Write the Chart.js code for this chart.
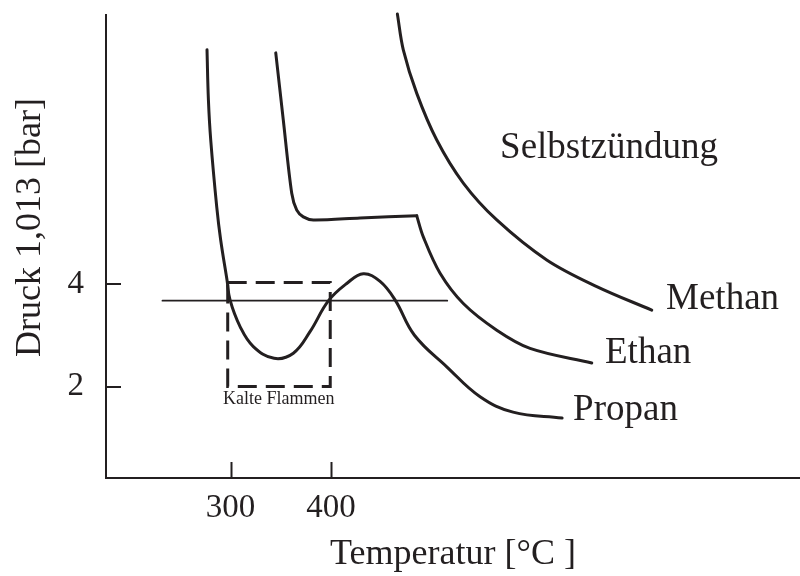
<!DOCTYPE html>
<html><head><meta charset="utf-8">
<script src="https://cdn.jsdelivr.net/npm/chart.js@4.4.0/dist/chart.umd.min.js"></script>
<style>html,body{margin:0;padding:0;background:#fff}#wrap{width:800px;height:576px}</style>
</head><body><div id="wrap"><canvas id="c" width="800" height="576"></canvas></div>
<script>
// ---- data (temperature °C, pressure bar) ----
const xTickValues = [300, 400];
const yTickValues = [2, 4];

const propanT = [276.6, 278.0, 280.3, 286.3, 290.2, 296.5, 299.5, 309.5, 322.7, 343.3, 362.5, 379.1, 397.3, 415.6, 432.1, 448.8, 463.7, 483.0, 515.4, 548.3, 581.1, 629.9];
const propanP = [8.57, 7.59, 6.81, 5.50, 4.86, 4.08, 3.69, 3.17, 2.78, 2.55, 2.65, 3.07, 3.67, 4.01, 4.20, 4.05, 3.69, 3.00, 2.38, 1.80, 1.50, 1.385];

const ethanUpperT = [345.0, 352.5, 360.9, 365.9, 372.4, 382.4, 428.9, 485.3];
const ethanUpperP = [8.51, 7.20, 5.77, 5.44, 5.31, 5.25, 5.29, 5.33];
const ethanLowerT = [485.3, 491.8, 508.5, 531.6, 564.9, 598.0, 659.4];
const ethanLowerP = [5.33, 4.92, 4.21, 3.62, 3.10, 2.745, 2.46];

const methanT = [466.0, 471.9, 485.3, 505.2, 531.6, 564.9, 614.6, 664.4, 719.1];
const methanP = [9.27, 8.57, 7.72, 6.81, 5.97, 5.25, 4.47, 3.95, 3.49];

const refLineT = [232.3, 515.6];
const refLineP = [3.674, 3.674];

const boxT = [297.2, 399.2, 399.2, 297.2, 297.2];
const boxP = [4.03, 4.03, 2.0, 2.0, 4.03];

const labelTexts = ['Selbstzündung', 'Methan', 'Ethan', 'Propan', 'Kalte Flammen'];
const labelT = [568.2, 733.3, 672.6, 640.8, 292.5];
const labelP = [6.46, 3.51, 2.46, 1.35, 1.66];

const xTitle = 'Temperatur [°C ]';
const yTitle = 'Druck 1,013 [bar]';

// ---- styling ----
const INK = '#231f20';
const FONT = '"Liberation Serif", "Times New Roman", serif';
const labelSizes = [37, 37, 37, 37, 18];

const pts = (xs, ys) => xs.map((x, i) => ({x, y: ys[i]}));
const curve = (data, extra) => Object.assign({
  data, borderColor: INK, borderWidth: 3, pointRadius: 0, fill: false,
  tension: 0.35, clip: false, borderCapStyle: 'round', borderJoinStyle: 'round'
}, extra || {});

const overlay = {
  id: 'overlay',
  afterDraw(chart) {
    const {ctx, chartArea: a, scales: {x, y}} = chart;
    ctx.save();
    ctx.strokeStyle = INK; ctx.lineWidth = 2;
    // inward tick marks
    x.ticks.forEach(t => {
      const px = Math.round(x.getPixelForValue(t.value)) + 0.5;
      ctx.beginPath(); ctx.moveTo(px, a.bottom); ctx.lineTo(px, a.bottom - 16); ctx.stroke();
    });
    y.ticks.forEach(t => {
      const py = Math.round(y.getPixelForValue(t.value));
      ctx.beginPath(); ctx.moveTo(a.left, py); ctx.lineTo(a.left + 15, py); ctx.stroke();
    });
    // annotations
    ctx.fillStyle = INK; ctx.textAlign = 'left'; ctx.textBaseline = 'alphabetic';
    labelTexts.forEach((s, i) => {
      ctx.font = labelSizes[i] + 'px ' + FONT;
      ctx.fillText(s, x.getPixelForValue(labelT[i]), y.getPixelForValue(labelP[i]));
    });
    // y title
    ctx.font = '36px ' + FONT;
    ctx.translate(40, 227.5);
    ctx.rotate(-Math.PI / 2);
    ctx.textAlign = 'center';
    ctx.fillText(yTitle, 0, 0);
    ctx.restore();
  }
};

new Chart(document.getElementById('c'), {
  type: 'line',
  data: {
    datasets: [
      curve(pts(propanT, propanP), {label: 'Propan', tension: 0.4}),
      curve(pts(ethanUpperT, ethanUpperP), {label: 'Ethan', tension: 0.3}),
      curve(pts(ethanLowerT, ethanLowerP), {label: 'Ethan (2)'}),
      curve(pts(methanT, methanP), {label: 'Methan'}),
      curve(pts(refLineT, refLineP), {label: 'Referenz', borderWidth: 1.8, tension: 0}),
      curve(pts(boxT, boxP), {label: 'Kalte Flammen', tension: 0, borderDash: [19, 9], borderCapStyle: 'butt', borderJoinStyle: 'miter'})
    ]
  },
  options: {
    responsive: false,
    animation: false,
    layout: {padding: {top: 15, right: 0, left: 0, bottom: 0}},
    plugins: {legend: {display: false}, tooltip: {enabled: false}},
    scales: {
      x: {
        type: 'linear', min: 176.1, max: 866.6,
        afterBuildTicks: s => { s.ticks = xTickValues.map(v => ({value: v})); },
        afterFit: s => { s.height = 98; s.paddingLeft = 0; s.paddingRight = 0; },
        grid: {display: false},
        border: {display: true, color: INK, width: 2},
        ticks: {font: {family: FONT, size: 33}, color: INK, padding: 3, maxRotation: 0, autoSkip: false},
        title: {display: true, text: xTitle, font: {family: FONT, size: 36}, color: INK, padding: {top: 0, bottom: 0}}
      },
      y: {
        type: 'linear', min: 0.215, max: 9.249,
        afterBuildTicks: s => { s.ticks = yTickValues.map(v => ({value: v})); },
        afterFit: s => { s.width = 106; s.paddingTop = 0; s.paddingBottom = 0; },
        grid: {display: false},
        border: {display: true, color: INK, width: 2},
        ticks: {font: {family: FONT, size: 33}, color: INK, padding: 14, autoSkip: false},
        title: {display: false}
      }
    }
  },
  plugins: [overlay]
});
</script>
</body></html>
